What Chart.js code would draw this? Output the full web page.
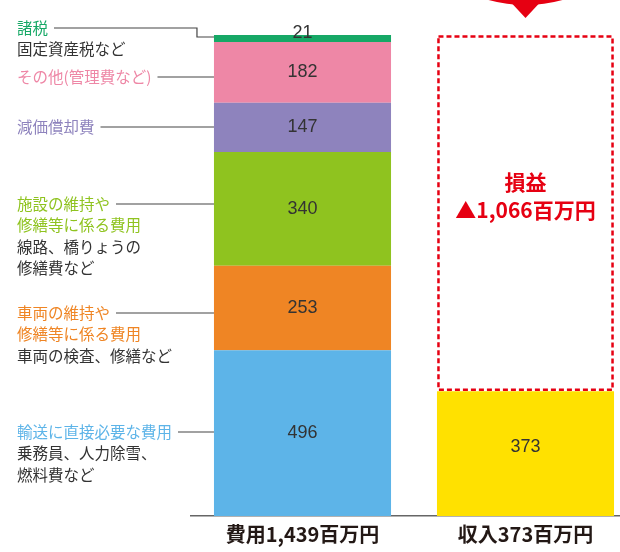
<!DOCTYPE html>
<html lang="ja">
<head>
<meta charset="utf-8">
<script src="https://cdn.jsdelivr.net/npm/chart.js@4/dist/chart.umd.min.js"></script>
<style>
html, body { margin: 0; padding: 0; background: #fff; overflow: hidden; }
#wrap { width: 620px; height: 552px; overflow: hidden; }
</style>
</head>
<body>
<div id="wrap"><canvas id="chart" width="640" height="552"></canvas></div>
<script>
// data
var tickLabels = ['費用1,439百万円', '収入373百万円'];
var costNames = ['輸送に直接必要な費用', '車両の維持や修繕等に係る費用', '施設の維持や修繕等に係る費用', '減価償却費', 'その他(管理費など)', '諸税'];
var costValues = [496, 253, 340, 147, 182, 21];
var incomeValues = [373];
var lossValues = [1066];

var costColors = ['#5db4e8', '#ef8524', '#8fc31f', '#8e83bd', '#ee87a6', '#16a866'];
var JP = '"Noto Sans CJK JP", "Noto Sans", sans-serif';
var RED = '#e60012';

// left side notes: which segment, first line y, lines
var notes = [
  { seg: 5, y: 28, lines: [['諸税', '#16a866'], ['固定資産税など', '#333']] },
  { seg: 4, y: 77, lines: [['その他(管理費など)', '#ee87a6']] },
  { seg: 3, y: 127, lines: [['減価償却費', '#8e83bd']] },
  { seg: 2, y: 204, lines: [['施設の維持や', '#8fc31f'], ['修繕等に係る費用', '#8fc31f'], ['線路、橋りょうの', '#333'], ['修繕費など', '#333']] },
  { seg: 1, y: 313, lines: [['車両の維持や', '#ef8524'], ['修繕等に係る費用', '#ef8524'], ['車両の検査、修繕など', '#333']] },
  { seg: 0, y: 432, lines: [['輸送に直接必要な費用', '#5db4e8'], ['乗務員、人力除雪、', '#333'], ['燃料費など', '#333']] }
];

var datasets = [];
for (var i = 0; i < costValues.length; i++) {
  datasets.push({ label: costNames[i], data: [costValues[i], null], backgroundColor: costColors[i] });
}
datasets.push({ label: '収入', data: [null, incomeValues[0]], backgroundColor: '#ffe100' });
datasets.push({ label: '損益', data: [null, lossValues[0]], backgroundColor: 'rgba(0,0,0,0)' });

var extras = {
  id: 'extras',
  afterDatasetsDraw: function (chart) {
    var c = chart.ctx;
    c.save();
    // values in the bars
    c.font = '18px "Liberation Sans", Arial, sans-serif';
    c.fillStyle = '#333';
    c.textAlign = 'center';
    c.textBaseline = 'middle';
    for (var d = 0; d < datasets.length - 1; d++) {
      var meta = chart.getDatasetMeta(d);
      var idx = d < costValues.length ? 0 : 1;
      var el = meta.data[idx];
      var v = datasets[d].data[idx];
      var h = el.base - el.y;
      var ty = h < 14 ? el.y - 2 : (el.y + el.base) / 2;
      if (idx === 1) ty -= 7;
      c.fillText(v, el.x, ty);
    }

    // dashed loss box
    var box = chart.getDatasetMeta(datasets.length - 1).data[1];
    c.strokeStyle = RED;
    c.lineWidth = 2.5;
    c.setLineDash([5, 3]);
    c.strokeRect(box.x - box.width / 2 + 1.5, box.y + 1.5, box.width - 3, box.base - box.y - 3);
    c.setLineDash([]);

    c.fillStyle = RED;
    c.font = 'bold 21px ' + JP;
    c.fillText('損益', box.x, 182);
    c.fillText('▲' + lossValues[0].toLocaleString('en-US') + '百万円', box.x, 210);

    // red arrow at the top
    c.beginPath();
    c.moveTo(box.x - 37, 0);
    c.quadraticCurveTo(box.x, 10, box.x + 37, 0);
    c.closePath();
    c.fill();
    c.beginPath();
    c.moveTo(box.x - 14, 3);
    c.lineTo(box.x + 14, 3);
    c.lineTo(box.x, 18);
    c.closePath();
    c.fill();

    // notes on the left
    c.textAlign = 'left';
    c.font = '15.5px ' + JP;
    c.strokeStyle = '#444';
    c.lineWidth = 1.2;
    notes.forEach(function (n) {
      n.lines.forEach(function (ln, k) {
        c.fillStyle = ln[1];
        c.fillText(ln[0], 17, n.y + k * 21.5);
      });
      var el = chart.getDatasetMeta(n.seg).data[0];
      var left = el.x - el.width / 2;
      var x0 = 17 + c.measureText(n.lines[0][0]).width + 6;
      c.beginPath();
      c.moveTo(x0, n.y);
      if (el.base - el.y < 14) {
        var segY = el.y + 2;
        c.lineTo(left - 17, n.y);
        c.lineTo(left - 17, segY);
        c.lineTo(left, segY);
      } else {
        c.lineTo(left, n.y);
      }
      c.stroke();
    });
    c.restore();
  }
};

var ctx = document.getElementById('chart').getContext('2d');
var chart = new Chart(ctx, {
  type: 'bar',
  data: { labels: tickLabels, datasets: datasets },
  options: {
    responsive: false,
    animation: false,
    layout: { padding: { left: 191, right: 3, top: 35, bottom: 0 } },
    datasets: { bar: { categoryPercentage: 1, barPercentage: 0.794, borderWidth: 0 } },
    plugins: { legend: { display: false }, tooltip: { enabled: false } },
    scales: {
      x: {
        stacked: true,
        grid: { display: false, drawTicks: false },
        border: { display: true, color: '#666', width: 1.5 },
        ticks: { color: '#231815', padding: 10, font: { family: JP, size: 20, weight: 'bold', lineHeight: 0.8 } }
      },
      y: { stacked: true, display: false, min: 0, max: 1439 }
    }
  },
  plugins: [extras]
});
</script>
</body>
</html>
